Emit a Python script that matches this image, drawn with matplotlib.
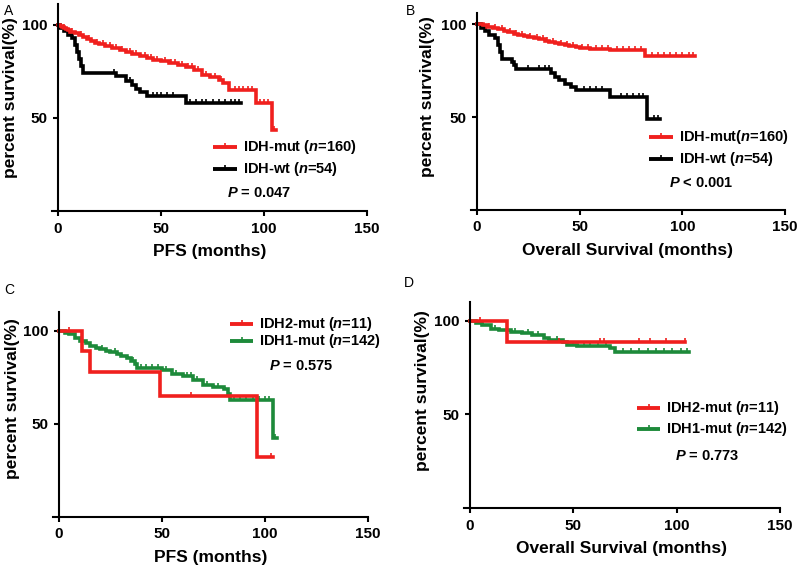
import numpy as np
import matplotlib
matplotlib.use("Agg")
import matplotlib.pyplot as plt

plt.rcParams['font.family'] = ['Liberation Sans', 'DejaVu Sans']
plt.rcParams['font.weight'] = 'bold'
plt.rcParams['mathtext.fontset'] = 'custom'
plt.rcParams['mathtext.rm'] = 'Liberation Sans:bold'
plt.rcParams['mathtext.bfit'] = 'Liberation Sans:italic:bold'

RED = '#f0201e'
BLACK = '#000000'
GREEN = '#1d8a3a'

## Kaplan-Meier curves: event times, survival after the step, last follow-up, censored times

# A: PFS, IDH-mut vs IDH-wt
a_mut_t = [0, 1, 2, 3, 4, 5, 6, 8, 10, 12, 14, 16, 18, 20, 23, 26, 30, 33, 36, 40, 43, 46, 50, 54, 58, 62, 66, 70, 74, 78, 80, 83, 96, 104]
a_mut_s = [100, 99.4, 98.8, 98.1, 97.5, 96.8, 96.2, 95.5, 94.6, 93.5, 92.4, 91.3, 90.2, 89.3, 88.4, 87.5, 86.6, 85.5, 84.3, 83, 82, 81, 80.2, 79.2, 78.2, 77.2, 75.8, 73.2, 71.6, 70.2, 68.8, 65, 57.7, 43.2]
a_mut_end = 106
a_mut_cens = [3, 7, 11, 15, 19, 22, 25, 28, 31, 35, 38, 42, 45, 48, 52, 55, 57, 60, 63, 65, 68, 72, 76, 79, 86, 88, 90, 92, 94, 98, 100, 102, 105]

a_wt_t = [0, 1, 3, 5, 7, 8, 9, 10, 11, 12, 28, 33, 36, 38, 40, 43, 62]
a_wt_s = [100, 98.1, 96.3, 94.4, 92.6, 88.9, 85.2, 81.5, 77.8, 74.1, 72.2, 69.6, 67.4, 65.5, 63.7, 61.6, 57.8]
a_wt_end = 89
a_wt_cens = [27, 35, 46, 48, 50, 53, 56, 64, 67, 70, 72, 75, 78, 81, 84, 86, 88]

# B: overall survival, IDH-mut vs IDH-wt
b_mut_t = [0, 3, 5, 8, 10, 13, 15, 18, 20, 23, 25, 28, 30, 33, 35, 38, 40, 43, 45, 48, 50, 55, 65, 82]
b_mut_s = [100, 99.4, 98.7, 98, 97.2, 96.5, 95.8, 95, 94.3, 93.6, 93, 92.4, 91.8, 91.2, 90.6, 90, 89.4, 88.8, 88.2, 87.6, 87.1, 86.8, 86.3, 83]
b_mut_end = 106
b_mut_cens = [6, 9, 12, 16, 19, 22, 26, 29, 32, 34, 37, 41, 44, 47, 51, 54, 58, 61, 64, 68, 71, 74, 77, 80, 85, 88, 91, 94, 97, 100, 103, 105]

b_wt_t = [0, 2, 4, 6, 9, 10, 11, 12, 17, 18, 19, 36, 38, 40, 43, 46, 48, 65, 83]
b_wt_s = [100, 98.1, 96.3, 94.4, 92.6, 88.9, 85.2, 81.5, 79.6, 77.8, 76, 74, 71.8, 69.9, 67.8, 66.2, 64.6, 60.8, 48.8]
b_wt_end = 89
b_wt_cens = [25, 30, 33, 35, 52, 55, 58, 61, 70, 73, 76, 79, 81, 86, 88]

# C: PFS, IDH2-mut vs IDH1-mut
c_idh2_t = [0, 11, 15, 49, 96]
c_idh2_s = [100, 88.9, 77.8, 64.8, 32.4]
c_idh2_end = 104
c_idh2_cens = [5, 64, 103]

c_idh1_t = [0, 3, 5, 8, 10, 13, 15, 18, 20, 23, 25, 28, 30, 33, 35, 37, 38, 50, 55, 60, 65, 70, 75, 80, 82, 83, 104]
c_idh1_s = [100, 99, 98.2, 96.3, 94.7, 93.2, 92, 91, 90.2, 89.3, 88.5, 87.6, 86.7, 85.3, 83.7, 82, 80.1, 79, 77, 75.5, 73.4, 70.7, 69.9, 69, 66.3, 62.8, 42.4]
c_idh1_end = 106
c_idh1_cens = [21, 27, 36, 40, 42, 45, 48, 52, 57, 62, 64, 67, 72, 77, 85, 88, 91, 94, 97, 100, 102, 105]

# D: overall survival, IDH2-mut vs IDH1-mut
d_idh2_t = [0, 18]
d_idh2_s = [100, 88.9]
d_idh2_end = 104
d_idh2_cens = [5, 43, 63, 65, 82, 87, 95, 104]

d_idh1_t = [0, 3, 6, 10, 14, 20, 25, 30, 36, 38, 45, 47, 52, 68, 70]
d_idh1_s = [100, 98.9, 97.9, 95.9, 95.2, 93.8, 93.3, 92.7, 91, 89.7, 88.5, 87, 86.5, 85.3, 83.6]
d_idh1_end = 106
d_idh1_cens = [5, 12, 22, 28, 33, 42, 50, 55, 58, 62, 66, 74, 78, 82, 86, 90, 94, 98, 102, 105]


def km_curve(ax, t, s, t_end, cens, color):
    x = np.append(t, t_end)
    y = np.append(s, s[-1])
    ax.step(x, y, where='post', color=color, lw=2.6, solid_joinstyle='miter')
    idx = np.searchsorted(t, cens, side='right') - 1
    ax.plot(cens, np.asarray(s)[idx], ls='none', marker=2, ms=3.2, mew=1.2, color=color)


def legend_row(ax, x0, x1, y, color, label):
    ax.plot([x0, x1], [y, y], color=color, lw=2.8, solid_capstyle='butt', clip_on=False)
    ax.plot([(x0 + x1) / 2], [y], marker=2, ms=3, mew=1.2, color=color, clip_on=False)
    ax.text(x1 + 3, y, label, fontsize=10.5, fontweight='bold', va='center', ha='left')


def style_axes(ax, xlabel, ytop, lab_x, lab_y):
    ax.set_xlim(-3, 150)
    ax.set_ylim(0, ytop)
    ax.set_xticks([0, 50, 100, 150])
    ax.set_yticks([50, 100])
    ax.spines['left'].set_position(('data', 0))
    for side in ['top', 'right']:
        ax.spines[side].set_visible(False)
    for side in ['left', 'bottom']:
        ax.spines[side].set_linewidth(1.5)
    ax.tick_params(width=1.5, length=3.5, labelsize=11, pad=4)
    for lab in ax.get_xticklabels() + ax.get_yticklabels():
        lab.set_fontweight('bold')
    ax.set_xlabel(xlabel, fontsize=12.5, fontweight='bold', labelpad=6)
    ax.set_ylabel('percent survival(%)', fontsize=12.5, fontweight='bold')
    ax.yaxis.set_label_coords(lab_x, lab_y)


fig = plt.figure(figsize=(8, 5.69), dpi=100)

axA = fig.add_axes([0.0648, 0.629, 0.394, 0.364])
axB = fig.add_axes([0.5885, 0.631, 0.3928, 0.346])
axC = fig.add_axes([0.066, 0.0914, 0.394, 0.360])
axD = fig.add_axes([0.5798, 0.107, 0.395, 0.362])

        # A ##############################
km_curve(axA, a_wt_t, a_wt_s, a_wt_end, a_wt_cens, BLACK)
km_curve(axA, a_mut_t, a_mut_s, a_mut_end, a_mut_cens, RED)
style_axes(axA, 'PFS (months)', 111, -0.107, 0.55)
legend_row(axA, 75, 87, 34.4, RED, 'IDH-mut ($\\bfit{n}$=160)')
legend_row(axA, 75, 87, 22.6, BLACK, 'IDH-wt ($\\bfit{n}$=54)')
axA.text(82, 9.7, '$\\bfit{P}$ = 0.047', fontsize=10.5, fontweight='bold', va='center')

        # B ##############################
km_curve(axB, b_wt_t, b_wt_s, b_wt_end, b_wt_cens, BLACK)
km_curve(axB, b_mut_t, b_mut_s, b_mut_end, b_mut_cens, RED)
style_axes(axB, 'Overall Survival (months)', 106, -0.114, 0.574)
legend_row(axB, 84, 95.5, 39.2, RED, 'IDH-mut($\\bfit{n}$=160)')
legend_row(axB, 84, 95.5, 27.4, BLACK, 'IDH-wt ($\\bfit{n}$=54)')
axB.text(93.5, 14.5, '$\\bfit{P}$ < 0.001', fontsize=10.5, fontweight='bold', va='center')

        # C ##############################
km_curve(axC, c_idh1_t, c_idh1_s, c_idh1_end, c_idh1_cens, GREEN)
km_curve(axC, c_idh2_t, c_idh2_s, c_idh2_end, c_idh2_cens, RED)
style_axes(axC, 'PFS (months)', 110, -0.104, 0.58)
legend_row(axC, 83, 94.2, 103.7, RED, 'IDH2-mut ($\\bfit{n}$=11)')
legend_row(axC, 83, 94.2, 94.7, GREEN, 'IDH1-mut ($\\bfit{n}$=142)')
axC.text(102, 80.9, '$\\bfit{P}$ = 0.575', fontsize=10.5, fontweight='bold', va='center')

        # D ##############################
km_curve(axD, d_idh1_t, d_idh1_s, d_idh1_end, d_idh1_cens, GREEN)
km_curve(axD, d_idh2_t, d_idh2_s, d_idh2_end, d_idh2_cens, RED)
style_axes(axD, 'Overall Survival (months)', 110, -0.107, 0.573)
legend_row(axD, 81, 92, 53.4, RED, 'IDH2-mut ($\\bfit{n}$=11)')
legend_row(axD, 81, 92, 42.2, GREEN, 'IDH1-mut ($\\bfit{n}$=142)')
axD.text(99, 27.8, '$\\bfit{P}$ = 0.773', fontsize=10.5, fontweight='bold', va='center')

# panel letters
for letter, px, py in [('A', 4, 11), ('B', 406, 11), ('C', 4, 290), ('D', 404, 283)]:
    fig.text(px / 800, 1 - py / 569, letter, fontsize=10, fontweight='normal', va='center', ha='left')

plt.savefig('out.png', dpi=100)
